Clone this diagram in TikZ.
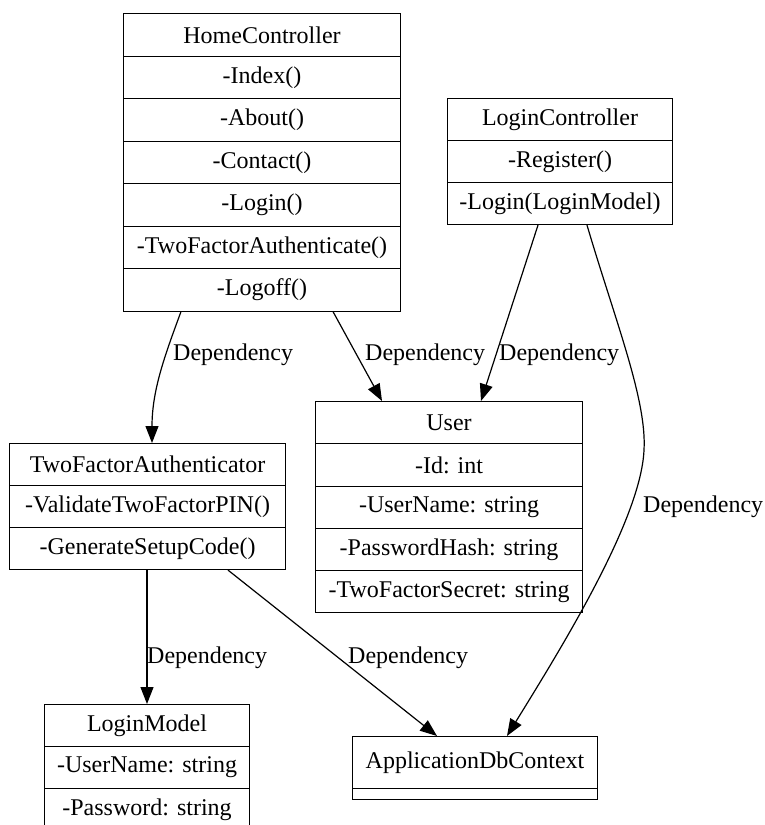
\documentclass[tikz,border=0pt]{standalone}
\usepackage{fontspec}
\setmainfont{Liberation Serif}
\usetikzlibrary{arrows.meta,calc}
\begin{document}
\begin{tikzpicture}[x=1pt,y=-1pt,
  row/.style={draw, line width=1.1pt, inner sep=0pt, anchor=north west, align=center,
    font=\fontsize{24}{27}\selectfont},
  dep/.style={line width=1.2pt, -{Triangle[length=17pt,width=13pt]}},
  lbl/.style={anchor=west, inner sep=0pt, font=\fontsize{24}{27}\selectfont}]
\useasboundingbox (0,0) rectangle (764,825);
% HomeController
\foreach \i/\t in {1/HomeController,2/-Index(),3/-About(),4/-Contact(),5/-Login(),6/-TwoFactorAuthenticate(),7/-Logoff()}{
  \node[row, minimum width=277pt, minimum height=42.5pt] (hc\i) at (123,{13+(\i-1)*42.5}) {\t};
}
% LoginController
\foreach \i/\t in {1/LoginController,2/-Register(),3/-Login(LoginModel)}{
  \node[row, minimum width=225pt, minimum height=42pt] (lc\i) at (447,{98+(\i-1)*42}) {\t};
}
% User
\foreach \i/\t in {1/User,2/-Id: int,3/-UserName: string,4/-PasswordHash: string,5/-TwoFactorSecret: string}{
  \node[row, minimum width=267pt, minimum height=42.25pt] (us\i) at (315,{401+(\i-1)*42.25}) {\t};
}
% TwoFactorAuthenticator
\foreach \i/\t in {1/TwoFactorAuthenticator,2/-ValidateTwoFactorPIN(),3/-GenerateSetupCode()}{
  \node[row, minimum width=276pt, minimum height=42pt] (tf\i) at (9,{443+(\i-1)*42}) {\t};
}
% LoginModel
\foreach \i/\t in {1/LoginModel,2/-UserName: string,3/-Password: string}{
  \node[row, minimum width=205pt, minimum height=42pt] (lm\i) at (44,{704+(\i-1)*42}) {\t};
}
% ApplicationDbContext
\node[row, minimum width=245pt, minimum height=52pt] (ad1) at (352,736) {ApplicationDbContext};
\node[row, minimum width=245pt, minimum height=11pt] (ad2) at (352,788) {};
% Edges
\draw[dep] ($(hc7.south west)+(58,0)$) .. controls (165,355) and (152,390) .. ($(tf1.north west)+(143,0)$);
\node[lbl] (l1) at (173,355) {Dependency};
\draw[dep] ($(hc7.south west)+(210,0)$) -- ($(us1.north west)+(67,0)$);
\node[lbl] (l2) at (365,355) {Dependency};
\draw[dep] ($(lc3.south west)+(91,0)$) -- ($(us1.north west)+(166,0)$);
\node[lbl] (l3) at (499,355) {Dependency};
\draw[dep] ($(lc3.south west)+(140,0)$) .. controls (615,320) and (647,400) .. (644,450) .. controls (641,520) and (560,650) .. ($(ad1.north west)+(155,0)$);
\node[lbl] (l4) at (643,507) {Dependency};
\draw[dep] ($(tf3.south west)+(138,0)$) -- ($(lm1.north west)+(103,0)$);
\node[lbl] (l5) at (147,658) {Dependency};
\draw[dep] ($(tf3.south west)+(219,0)$) -- ($(ad1.north west)+(85,0)$);
\node[lbl] (l6) at (348,658) {Dependency};
\end{tikzpicture}
\end{document}
